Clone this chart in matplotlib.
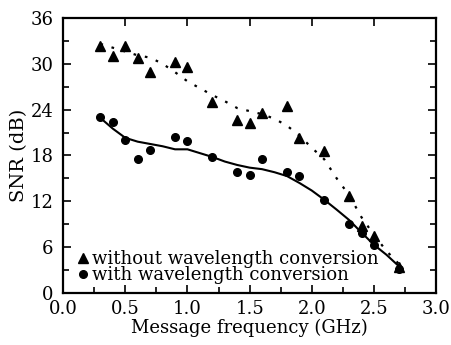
import matplotlib
matplotlib.use("Agg")
import matplotlib.pyplot as plt
from matplotlib.ticker import MultipleLocator

plt.rcParams["font.family"] = ["DejaVu Serif"]
plt.rcParams["mathtext.fontset"] = "dejavuserif"

# measured points
freq_tri = [0.3, 0.4, 0.5, 0.6, 0.7, 0.9, 1.0, 1.2, 1.4, 1.5, 1.6, 1.8, 1.9, 2.1, 2.3, 2.4, 2.5, 2.7]
snr_tri = [32.3, 31.0, 32.3, 30.8, 28.9, 30.2, 29.6, 25.0, 22.6, 22.2, 23.6, 24.5, 20.3, 18.6, 12.7, 8.7, 7.4, 3.4]

freq_dot = [0.3, 0.4, 0.5, 0.6, 0.7, 0.9, 1.0, 1.2, 1.4, 1.5, 1.6, 1.8, 1.9, 2.1, 2.3, 2.4, 2.5, 2.7]
snr_dot = [23.0, 22.4, 20.0, 17.5, 18.7, 20.4, 19.9, 17.8, 15.8, 15.4, 17.5, 15.8, 15.3, 12.2, 9.0, 7.8, 6.3, 3.1]

# fitted curves
fit_tri_x = [0.3, 0.4, 0.5, 0.6, 0.7, 0.8, 0.9, 1.0, 1.1, 1.2, 1.3, 1.4, 1.5, 1.6, 1.7, 1.8, 1.9, 2.0, 2.1, 2.2, 2.3, 2.4, 2.5, 2.6, 2.7]
fit_tri_y = [32.6, 32.1, 31.6, 31.1, 30.8, 30.0, 28.9, 27.7, 26.8, 25.9, 25.1, 24.2, 23.8, 23.4, 22.8, 21.9, 20.6, 19.0, 17.5, 15.0, 12.8, 9.9, 7.6, 5.5, 3.8]

fit_dot_x = [0.3, 0.4, 0.5, 0.6, 0.7, 0.8, 0.9, 1.0, 1.1, 1.2, 1.3, 1.4, 1.5, 1.6, 1.7, 1.8, 1.9, 2.0, 2.1, 2.2, 2.3, 2.4, 2.5, 2.6, 2.7]
fit_dot_y = [22.9, 21.5, 20.3, 19.8, 19.5, 19.2, 18.8, 18.8, 18.3, 17.8, 17.2, 16.75, 16.4, 16.2, 15.8, 15.3, 14.4, 13.4, 12.2, 10.9, 9.55, 7.9, 6.3, 5.0, 3.5]

fig, ax = plt.subplots(figsize=(4.51, 3.45), dpi=100)
fig.subplots_adjust(left=0.14, right=0.967, top=0.948, bottom=0.151)

ax.plot(fit_tri_x, fit_tri_y, color="black", linestyle=(0, (1.2, 4)), linewidth=1.6)
ax.plot(fit_dot_x, fit_dot_y, color="black", linestyle="-", linewidth=1.5)
ax.plot(freq_tri, snr_tri, "^", color="black", markersize=6.5, linestyle="none",
        label="without wavelength conversion")
ax.plot(freq_dot, snr_dot, "o", color="black", markersize=5.5, linestyle="none",
        label="with wavelength conversion")

ax.set_xlim(0, 3.0)
ax.set_ylim(0, 36)
ax.xaxis.set_major_locator(MultipleLocator(0.5))
ax.xaxis.set_minor_locator(MultipleLocator(0.25))
ax.yaxis.set_major_locator(MultipleLocator(6))
ax.yaxis.set_minor_locator(MultipleLocator(3))
ax.tick_params(which="both", direction="in", labelsize=13, width=1.2)
ax.tick_params(which="major", length=6)
ax.tick_params(which="minor", length=4)
ax.tick_params(axis="x", which="major", pad=5)
ax.tick_params(axis="y", which="major", pad=7)
ax.tick_params(axis="y", which="both", right=True)
ax.tick_params(axis="x", which="major", top=True)
for s in ax.spines.values():
    s.set_linewidth(1.6)

ax.set_xlabel("Message frequency (GHz)", fontsize=13, labelpad=1)
ax.set_ylabel("SNR (dB)", fontsize=14, labelpad=2)

ax.legend(loc="lower left", frameon=False, fontsize=13, handletextpad=0.1,
          handlelength=0.8, labelspacing=-0.1, borderaxespad=0.3,
          bbox_to_anchor=(0.0, -0.015))

plt.savefig("out.png", dpi=100)
plt.close()
